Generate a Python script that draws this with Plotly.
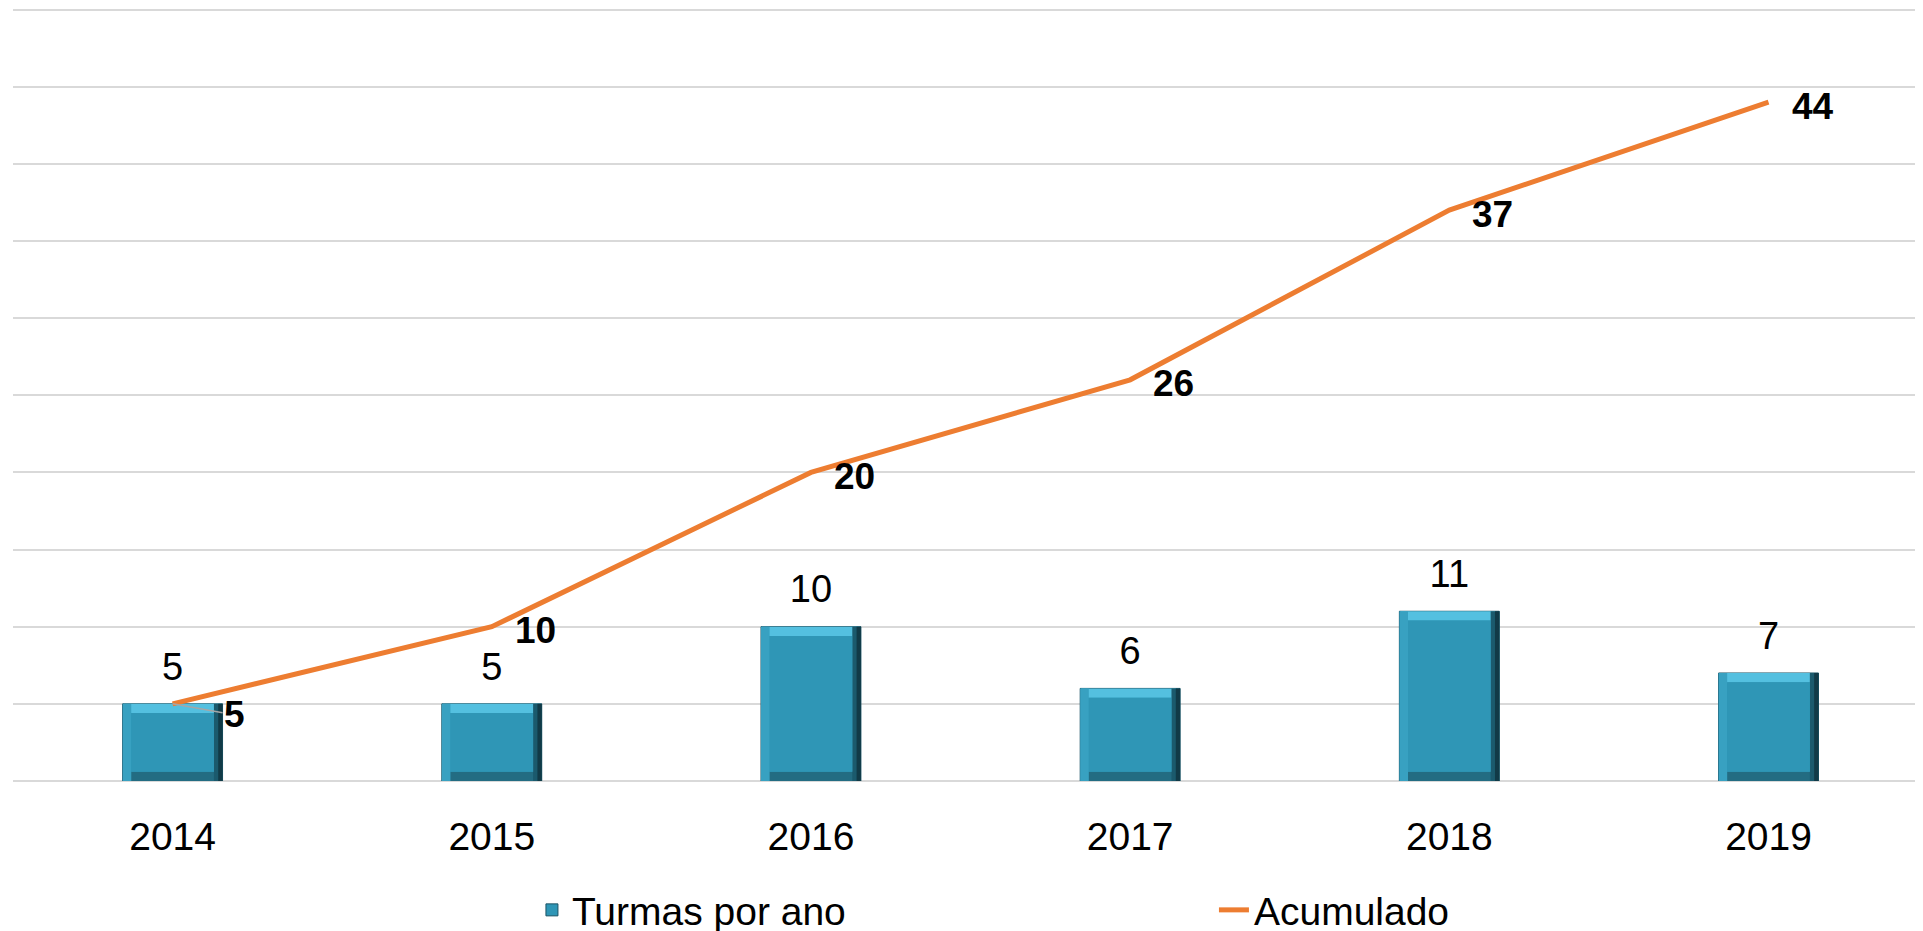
import plotly.graph_objects as go

anos = ["2014", "2015", "2016", "2017", "2018", "2019"]
turmas = [5, 5, 10, 6, 11, 7]
acumulado = [5, 10, 20, 26, 37, 44]

FONTE = "Liberation Sans, Arial, sans-serif"
AZUL = "#2F96B6"
LARANJA = "#ED7D31"
GRADE = "#D9D9D9"

LARG = 0.313   # largura da barra (unidades de categoria)
BEV_Y = 0.6    # profundidade do chanfro em y
BEV_X = 0.027  # profundidade do chanfro em x

fig = go.Figure()

# barra principal (com legenda)
fig.add_trace(go.Bar(
    x=anos, y=turmas, width=LARG, name="Turmas por ano",
    marker=dict(color=AZUL, line=dict(color="#1B5364", width=1)),
    hoverinfo="x+y",
))

# chanfros para imitar o efeito 3D do Excel
def faixa(y, base, width, offset, cor):
    fig.add_trace(go.Bar(
        x=anos, y=y, base=base, width=width, offset=offset,
        marker=dict(color=cor, line=dict(width=0)),
        showlegend=False, hoverinfo="skip",
    ))

n = len(anos)
faixa([BEV_Y] * n, [t - BEV_Y for t in turmas], LARG - 0.006, -LARG / 2 + 0.003, "#54C0E0")
faixa([BEV_Y] * n, 0, LARG - 0.006, -LARG / 2 + 0.003, "#236C82")
faixa(turmas, 0, BEV_X, -LARG / 2, "#38A1C1")
faixa(turmas, 0, BEV_X, LARG / 2 - BEV_X, "#1B5A6D")
faixa(turmas, 0, BEV_X / 2, LARG / 2 - BEV_X / 2, "#113A47")
faixa([t - 2 * BEV_Y for t in turmas], BEV_Y, LARG - 2 * BEV_X, -LARG / 2 + BEV_X, AZUL)

fig.add_trace(go.Scatter(
    x=anos, y=acumulado, mode="lines", name="Acumulado",
    line=dict(color=LARANJA, width=5),
))

# rótulos das barras
fig.add_trace(go.Scatter(
    x=anos, y=turmas, mode="markers+text", text=[str(t) for t in turmas],
    textposition="top center", textfont=dict(size=38, color="black"),
    marker=dict(size=22, opacity=0), showlegend=False, hoverinfo="skip",
))

# rótulos do acumulado (x pelo índice da categoria)
for i, c in enumerate(acumulado):
    if i == 0:
        # primeiro rótulo deslocado, com linha de chamada
        fig.add_annotation(x=i, y=c, xref="x", yref="y", text="<b>%d</b>" % c,
                           showarrow=True, arrowhead=0, arrowwidth=1.5,
                           arrowcolor="#A6A6A6", ax=62, ay=11,
                           font=dict(size=37, color="black", family=FONTE))
        continue
    fig.add_annotation(x=i, y=c, xref="x", yref="y", text="<b>%d</b>" % c,
                       showarrow=False, xanchor="left", yanchor="middle",
                       xshift=21, yshift=-4,
                       font=dict(size=37, color="black", family=FONTE))

fig.update_layout(
    width=1915, height=931,
    barmode="overlay",
    margin=dict(l=5, r=0, t=0, b=158, autoexpand=False),
    plot_bgcolor="white", paper_bgcolor="white",
    font=dict(family=FONTE, color="black", size=37),
    xaxis=dict(type="category", range=[-0.5, 5.484], showgrid=False,
               ticks="outside", ticklen=21, tickcolor="rgba(0,0,0,0)",
               showline=False, tickfont=dict(size=39)),
    yaxis=dict(range=[0, 50.097], tick0=0, dtick=5, showticklabels=False,
               gridcolor=GRADE, gridwidth=2,
               zeroline=True, zerolinecolor=GRADE, zerolinewidth=2),
    legend=dict(orientation="h", x=0.2717, xanchor="left",
                y=-0.1669, yanchor="middle", font=dict(size=39),
                entrywidth=637, entrywidthmode="pixels"),
    showlegend=True,
)

fig.write_html("out.html")
